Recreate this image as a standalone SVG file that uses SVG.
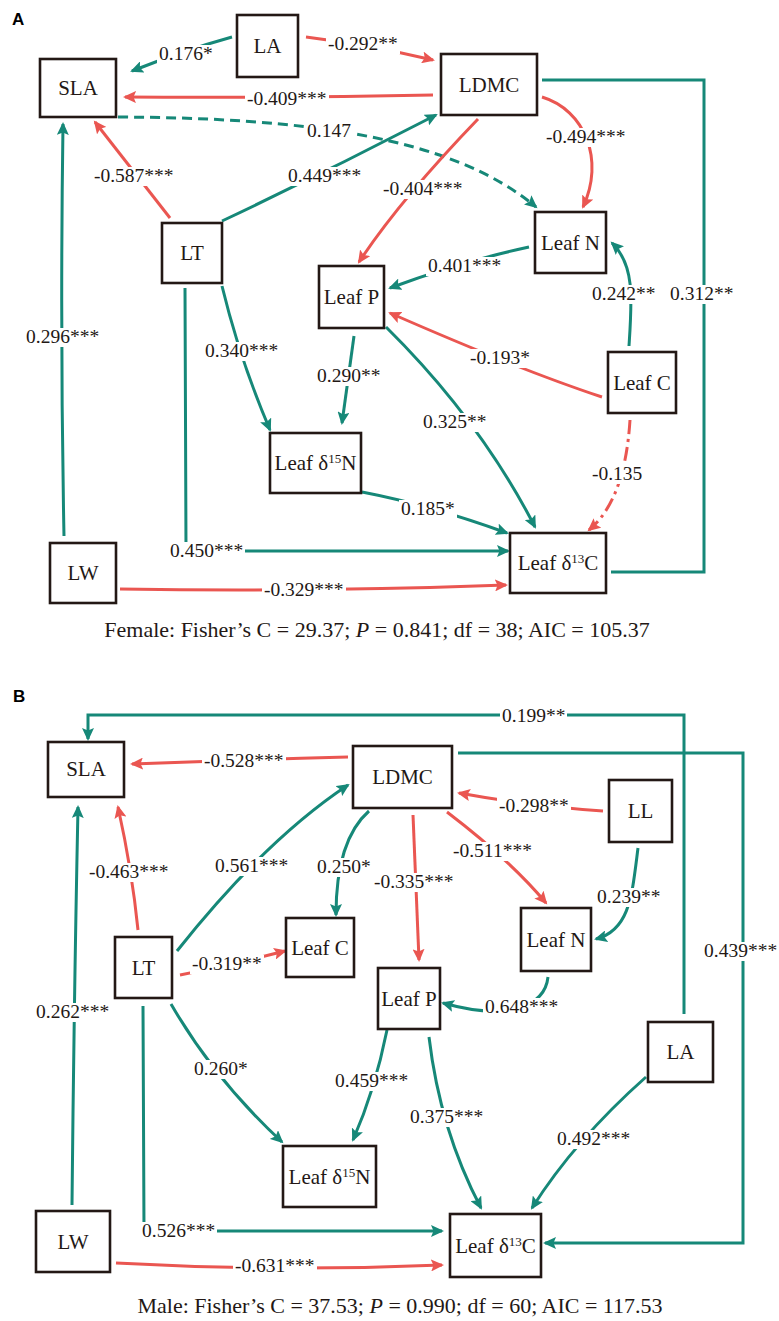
<svg xmlns="http://www.w3.org/2000/svg" width="779" height="1321" viewBox="0 0 779 1321">
<style>
.box{fill:#fff;stroke:#231815;stroke-width:2.6}
.nl{font-family:"Liberation Serif","Times New Roman",serif;font-size:21px;fill:#231815;text-anchor:middle}
.el{font-family:"Liberation Serif","Times New Roman",serif;font-size:19.5px;fill:#231815}
.bg{fill:#fff;stroke:none}
.cap{font-family:"Liberation Serif","Times New Roman",serif;font-size:22px;fill:#231815;text-anchor:middle}
.pl{font-family:"Liberation Sans",Arial,sans-serif;font-size:17px;font-weight:bold;fill:#000}
.t{fill:none;stroke:#168878;stroke-width:3}
.r{fill:none;stroke:#ea5651;stroke-width:3}
.ta{marker-end:url(#at)}
.ra{marker-end:url(#ar)}
</style>
<defs>
<marker id="at" markerWidth="14" markerHeight="12" refX="11" refY="6" orient="auto" markerUnits="userSpaceOnUse"><path d="M0,0 L13,6 L0,12 L2.5,6 z" fill="#168878"/></marker>
<marker id="ar" markerWidth="14" markerHeight="12" refX="11" refY="6" orient="auto" markerUnits="userSpaceOnUse"><path d="M0,0 L13,6 L0,12 L2.5,6 z" fill="#ea5651"/></marker>
</defs>
<rect width="779" height="1321" fill="#fff"/>
<text class="pl" x="12" y="25">A</text>
<text class="pl" x="13" y="702">B</text>

<g id="connectors">
<!-- Panel A -->
<path class="t ta" d="M232,37 Q185,50 132,71"/>
<path class="r ra" d="M306,37 Q370,45 433,60"/>
<path class="r ra" d="M433,95 Q280,98 125,97"/>
<path class="t ta" stroke-dasharray="10 6" d="M118,117 C300,118 450,135 536,207"/>
<path class="r ra" d="M170,218 L95,122"/>
<path class="t ta" d="M222,221 Q330,170 436,115"/>
<path class="r ra" d="M478,119 Q400,200 359,262"/>
<path class="r ra" d="M542,97 C585,110 605,160 583,207"/>
<path class="t ta" d="M529,247 Q460,262 390,288"/>
<path class="t ta" d="M629,346 C632,300 635,265 612,243"/>
<path class="r ra" d="M602,397 Q520,370 390,313"/>
<path class="r ra" stroke-dasharray="14 5 3 5" d="M630,420 Q625,500 589,530"/>
<path class="t ta" d="M354,336 L342,423"/>
<path class="t ta" d="M222,286 Q240,360 270,430"/>
<path class="t ta" d="M386,327 Q480,420 535,527"/>
<path class="t ta" d="M362,492 Q430,505 507,533"/>
<path class="t ta" d="M185,288 L186,551 L508,551"/>
<path class="t ta" d="M64,536 Q60,330 63,124"/>
<path class="r ra" d="M120,589 Q320,592 506,585"/>
<path class="t" d="M542,80 L704,80 L704,572 L611,572"/>

<!-- Panel B -->
<path class="t ta" d="M684,1014 L684,715 L88,715 L88,739"/>
<path class="r ra" d="M348,757 Q240,760 132,764"/>
<path class="r ra" d="M603,811 Q530,806 459,793"/>
<path class="r ra" d="M138,930 Q132,870 118,807"/>
<path class="t ta" d="M72,1205 Q74,1000 78,807"/>
<path class="t ta" d="M177,951 Q265,840 348,785"/>
<path class="r ra" d="M180,975 Q230,965 285,951"/>
<path class="t ta" d="M369,811 Q336,840 336,915"/>
<path class="r ra" d="M413,815 L419,960"/>
<path class="r ra" d="M447,812 Q510,860 546,903"/>
<path class="t ta" d="M638,848 C632,895 630,930 596,939"/>
<path class="t ta" d="M548,977 C545,1005 510,1022 443,1003"/>
<path class="t ta" d="M387,1030 Q375,1090 353,1140"/>
<path class="t ta" d="M171,1004 Q215,1080 282,1142"/>
<path class="t ta" d="M429,1037 Q440,1130 481,1208"/>
<path class="t ta" d="M646,1077 Q575,1140 532,1208"/>
<path class="t ta" d="M143,1006 L144,1231 L442,1231"/>
<path class="r ra" d="M116,1263 Q280,1272 442,1265"/>
<path class="t ta" d="M458,753 L743,753 L743,1243 L545,1243"/>

<!-- label backgrounds -->
<g class="bg">
<rect x="157" y="45" width="58" height="19"/>
<rect x="326" y="35" width="74" height="19"/>
<rect x="245" y="90" width="84" height="19"/>
<rect x="305" y="122" width="48" height="19"/>
<rect x="92" y="167" width="84" height="19"/>
<rect x="286" y="167" width="77" height="19"/>
<rect x="381" y="180" width="84" height="19"/>
<rect x="544" y="128" width="84" height="19"/>
<rect x="426" y="257" width="77" height="19"/>
<rect x="590" y="285" width="67" height="19"/>
<rect x="668" y="285" width="67" height="19"/>
<rect x="468" y="349" width="64" height="19"/>
<rect x="421" y="413" width="67" height="19"/>
<rect x="24" y="328" width="77" height="19"/>
<rect x="203" y="342" width="77" height="19"/>
<rect x="315" y="367" width="67" height="19"/>
<rect x="590" y="465" width="54" height="19"/>
<rect x="399" y="500" width="58" height="19"/>
<rect x="168" y="542" width="77" height="19"/>
<rect x="262" y="581" width="84" height="19"/>
<rect x="500" y="707" width="67" height="19"/>
<rect x="202" y="752" width="84" height="19"/>
<rect x="497" y="797" width="74" height="19"/>
<rect x="87" y="863" width="84" height="19"/>
<rect x="213" y="857" width="77" height="19"/>
<rect x="315" y="858" width="58" height="19"/>
<rect x="372" y="873" width="84" height="19"/>
<rect x="451" y="842" width="84" height="19"/>
<rect x="595" y="888" width="67" height="19"/>
<rect x="190" y="955" width="74" height="19"/>
<rect x="702" y="942" width="77" height="19"/>
<rect x="483" y="998" width="77" height="19"/>
<rect x="34" y="1003" width="77" height="19"/>
<rect x="192" y="1060" width="58" height="19"/>
<rect x="333" y="1072" width="77" height="19"/>
<rect x="408" y="1108" width="77" height="19"/>
<rect x="555" y="1130" width="77" height="19"/>
<rect x="140" y="1222" width="77" height="19"/>
<rect x="233" y="1257" width="84" height="19"/>
</g>

<text class="el" x="159" y="60">0.176*</text>
<text class="el" x="328" y="50">-0.292**</text>
<text class="el" x="247" y="105">-0.409***</text>
<text class="el" x="307" y="137">0.147</text>
<text class="el" x="94" y="182">-0.587***</text>
<text class="el" x="288" y="182">0.449***</text>
<text class="el" x="383" y="195">-0.404***</text>
<text class="el" x="546" y="143">-0.494***</text>
<text class="el" x="428" y="272">0.401***</text>
<text class="el" x="592" y="300">0.242**</text>
<text class="el" x="670" y="300">0.312**</text>
<text class="el" x="470" y="364">-0.193*</text>
<text class="el" x="423" y="428">0.325**</text>
<text class="el" x="26" y="343">0.296***</text>
<text class="el" x="205" y="357">0.340***</text>
<text class="el" x="317" y="382">0.290**</text>
<text class="el" x="592" y="480">-0.135</text>
<text class="el" x="401" y="515">0.185*</text>
<text class="el" x="170" y="557">0.450***</text>
<text class="el" x="264" y="596">-0.329***</text>

<text class="el" x="502" y="722">0.199**</text>
<text class="el" x="204" y="767">-0.528***</text>
<text class="el" x="499" y="812">-0.298**</text>
<text class="el" x="89" y="878">-0.463***</text>
<text class="el" x="215" y="872">0.561***</text>
<text class="el" x="317" y="873">0.250*</text>
<text class="el" x="374" y="888">-0.335***</text>
<text class="el" x="453" y="857">-0.511***</text>
<text class="el" x="597" y="903">0.239**</text>
<text class="el" x="192" y="970">-0.319**</text>
<text class="el" x="704" y="957">0.439***</text>
<text class="el" x="485" y="1013">0.648***</text>
<text class="el" x="36" y="1018">0.262***</text>
<text class="el" x="194" y="1075">0.260*</text>
<text class="el" x="335" y="1087">0.459***</text>
<text class="el" x="410" y="1123">0.375***</text>
<text class="el" x="557" y="1145">0.492***</text>
<text class="el" x="142" y="1237">0.526***</text>
<text class="el" x="235" y="1272">-0.631***</text>
</g>

<!-- Panel A nodes -->
<g id="A-LA"><rect class="box" x="237" y="15" width="61" height="62"/><text class="nl" x="267.5" y="53">LA</text></g>
<g id="A-SLA"><rect class="box" x="40" y="59" width="76" height="58"/><text class="nl" x="78" y="95">SLA</text></g>
<g id="A-LDMC"><rect class="box" x="441" y="54" width="96" height="61"/><text class="nl" x="489" y="92">LDMC</text></g>
<g id="A-LeafN"><rect class="box" x="535" y="212" width="71" height="61"/><text class="nl" x="570.5" y="250">Leaf N</text></g>
<g id="A-LeafP"><rect class="box" x="319" y="266" width="65" height="62"/><text class="nl" x="351.5" y="304">Leaf P</text></g>
<g id="A-LT"><rect class="box" x="162" y="223" width="60" height="60"/><text class="nl" x="192" y="260">LT</text></g>
<g id="A-LeafC"><rect class="box" x="608" y="352" width="68" height="61"/><text class="nl" x="642" y="390">Leaf C</text></g>
<g id="A-Leafd15N"><rect class="box" x="270" y="433" width="91" height="60"/><text class="nl" x="315.5" y="470">Leaf δ<tspan font-size="13" dy="-7">15</tspan><tspan dy="7">N</tspan></text></g>
<g id="A-Leafd13C"><rect class="box" x="510" y="533" width="96" height="60"/><text class="nl" x="558" y="570">Leaf δ<tspan font-size="13" dy="-7">13</tspan><tspan dy="7">C</tspan></text></g>
<g id="A-LW"><rect class="box" x="50" y="543" width="66" height="60"/><text class="nl" x="83" y="580">LW</text></g>
<text class="cap" x="377" y="637">Female: Fisher’s C = 29.37; <tspan font-style="italic">P</tspan> = 0.841; df = 38; AIC = 105.37</text>

<!-- Panel B nodes -->
<g id="B-SLA"><rect class="box" x="48" y="742" width="76" height="55"/><text class="nl" x="86" y="776">SLA</text></g>
<g id="B-LDMC"><rect class="box" x="353" y="746" width="99" height="62"/><text class="nl" x="402.5" y="784">LDMC</text></g>
<g id="B-LL"><rect class="box" x="609" y="780" width="63" height="62"/><text class="nl" x="640.5" y="818">LL</text></g>
<g id="B-LeafC"><rect class="box" x="286" y="918" width="68" height="59"/><text class="nl" x="320" y="955">Leaf C</text></g>
<g id="B-LT"><rect class="box" x="115" y="937" width="57" height="61"/><text class="nl" x="143.5" y="975">LT</text></g>
<g id="B-LeafN"><rect class="box" x="521" y="908" width="70" height="63"/><text class="nl" x="556" y="947">Leaf N</text></g>
<g id="B-LeafP"><rect class="box" x="378" y="968" width="62" height="61"/><text class="nl" x="409" y="1006">Leaf P</text></g>
<g id="B-LA"><rect class="box" x="648" y="1022" width="65" height="60"/><text class="nl" x="680.5" y="1059">LA</text></g>
<g id="B-Leafd15N"><rect class="box" x="283" y="1146" width="93" height="61"/><text class="nl" x="329.5" y="1184">Leaf δ<tspan font-size="13" dy="-7">15</tspan><tspan dy="7">N</tspan></text></g>
<g id="B-Leafd13C"><rect class="box" x="450" y="1214" width="91" height="63"/><text class="nl" x="495.5" y="1253">Leaf δ<tspan font-size="13" dy="-7">13</tspan><tspan dy="7">C</tspan></text></g>
<g id="B-LW"><rect class="box" x="36" y="1211" width="74" height="61"/><text class="nl" x="73" y="1249">LW</text></g>
<text class="cap" x="400" y="1313">Male: Fisher’s C = 37.53; <tspan font-style="italic">P</tspan> = 0.990; df = 60; AIC = 117.53</text>
</svg>
